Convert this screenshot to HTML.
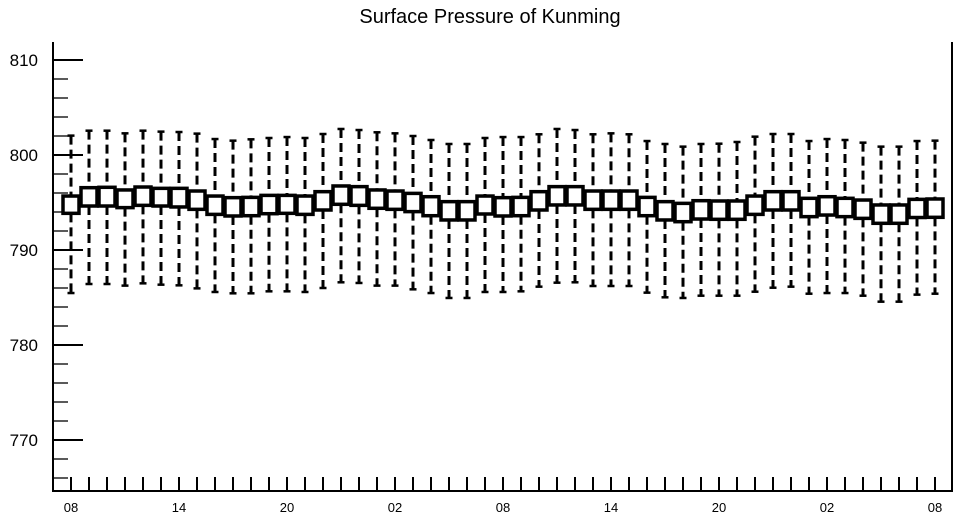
<!DOCTYPE html>
<html><head><meta charset="utf-8"><style>
body{margin:0;background:#fff}
svg{display:block;font-family:"Liberation Sans",sans-serif}
</style></head><body>
<svg id="chart" width="958" height="520" viewBox="0 0 958 520" xmlns="http://www.w3.org/2000/svg">
<text x="490" y="23" font-size="20" text-anchor="middle">Surface Pressure of Kunming</text>
<g id="axes"></g>
<g id="marks"></g>
</svg>
<script>
const hours=[8,11,14,17,20,23,2,5,8,11,14,17,20,23,2,5,8,11,14,17,20,23,2,5,8,11,14,17,20,23,2,5,8,11,14,17,20,23,2,5,8,11,14,17,20,23,2,5,8];
const xTickLabels=["08","14","20","02","08","14","20","02","08"];
const yTicks=[770,780,790,800,810];
const whiskHi=[802.04,802.56,802.56,802.28,802.56,802.46,802.42,802.25,801.68,801.51,801.65,801.79,801.89,801.79,802.21,802.74,802.63,802.39,802.28,802.0,801.58,801.16,801.16,801.79,801.89,801.89,802.18,802.74,802.63,802.18,802.28,802.18,801.47,801.16,800.88,801.16,801.19,801.37,801.93,802.21,802.21,801.47,801.68,801.58,801.3,800.88,800.88,801.47,801.51];
const q3=[795.68,796.56,796.6,796.32,796.63,796.49,796.49,796.21,795.68,795.51,795.54,795.75,795.75,795.68,796.14,796.74,796.67,796.32,796.21,795.96,795.61,795.09,795.09,795.68,795.51,795.54,796.14,796.67,796.67,796.21,796.21,796.21,795.54,795.09,794.91,795.19,795.16,795.16,795.68,796.14,796.14,795.44,795.61,795.44,795.26,794.74,794.74,795.33,795.37];
const q1=[793.86,794.63,794.63,794.46,794.7,794.63,794.53,794.28,793.75,793.58,793.61,793.82,793.86,793.75,794.21,794.81,794.7,794.39,794.28,794.04,793.61,793.16,793.16,793.79,793.58,793.61,794.21,794.74,794.74,794.28,794.28,794.28,793.61,793.16,792.98,793.26,793.23,793.23,793.75,794.21,794.21,793.51,793.68,793.51,793.33,792.81,792.81,793.42,793.44];
const whiskLo=[785.47,786.42,786.42,786.25,786.49,786.35,786.28,785.96,785.58,785.44,785.44,785.65,785.65,785.58,786.0,786.6,786.53,786.25,786.25,785.86,785.47,784.95,784.95,785.58,785.58,785.65,786.14,786.56,786.6,786.21,786.21,786.21,785.51,785.02,784.95,785.19,785.19,785.19,785.61,786.03,786.14,785.4,785.47,785.47,785.19,784.56,784.56,785.3,785.4];

const NS="http://www.w3.org/2000/svg";
const L=53,R=952,B=491,T=42;
const y=v=>155-(v-800)*9.5;
const x=i=>71+i*18;
function mk(tag,attrs,parent){const e=document.createElementNS(NS,tag);for(const k in attrs)e.setAttribute(k,attrs[k]);parent.appendChild(e);return e;}
const axes=document.getElementById('axes'),marks=document.getElementById('marks');

const frame=mk('path',{d:`M${L},${T}V${B}H${R}V${T}`,fill:'none',stroke:'#000','stroke-width':2},axes);


for(let v=766;v<=811;v+=2){
  const major=(v%10===0);
  const t=mk('line',{x1:L,x2:L+(major?30:15),y1:y(v),y2:y(v),stroke:'#000','stroke-width':major?2:1.3},axes);
  
  
}
yTicks.forEach(v=>{
  const t=mk('text',{x:38,y:y(v)+6,'font-size':17,'text-anchor':'end'},axes);t.textContent=v;
  
  
});
hours.forEach((h,i)=>{
  const t=mk('line',{x1:x(i),x2:x(i),y1:B-14,y2:B,stroke:'#000','stroke-width':2},axes);
  
  
});
xTickLabels.forEach((s,k)=>{
  const t=mk('text',{x:x(k*6),y:512,'font-size':13,'text-anchor':'middle'},axes);t.textContent=s;
  
  
});
hours.forEach((h,i)=>{
  const g=mk('g',{},marks);
  
  
  const cx=x(i);
  mk('line',{x1:cx,x2:cx,y1:y(whiskHi[i]),y2:y(q3[i]),stroke:'#000','stroke-width':3,'stroke-dasharray':'9,5'},g);
  mk('line',{x1:cx,x2:cx,y1:y(q1[i]),y2:y(whiskLo[i]),stroke:'#000','stroke-width':3,'stroke-dasharray':'9,5'},g);
  mk('line',{x1:cx-3.5,x2:cx+3.5,y1:y(whiskHi[i]),y2:y(whiskHi[i]),stroke:'#000','stroke-width':2.5},g);
  mk('line',{x1:cx-3.5,x2:cx+3.5,y1:y(whiskLo[i]),y2:y(whiskLo[i]),stroke:'#000','stroke-width':2.5},g);
  mk('rect',{x:cx-8,y:y(q3[i]),width:16,height:y(q1[i])-y(q3[i]),fill:'#fff',stroke:'#000','stroke-width':3.5},g);
});
</script>
</body></html>
